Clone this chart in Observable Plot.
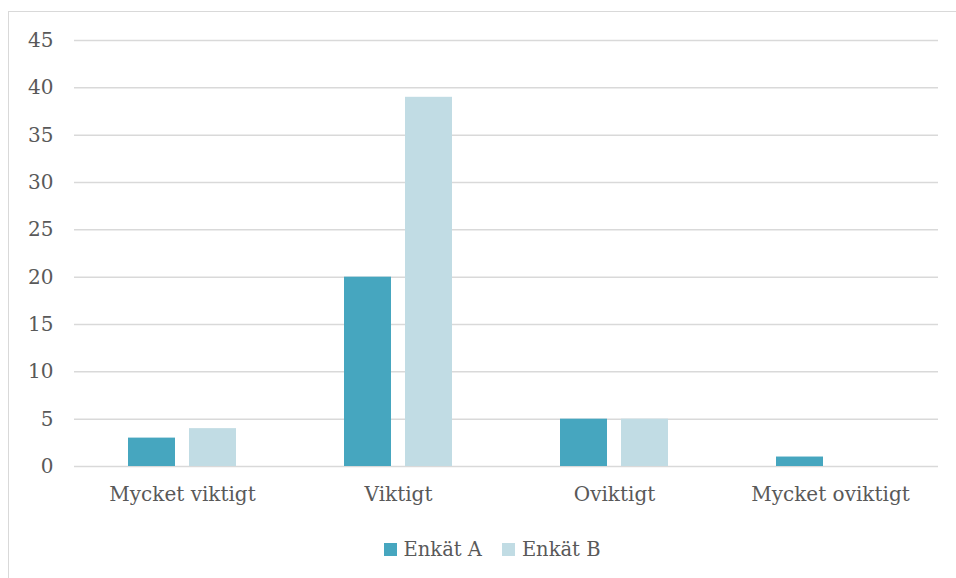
<!DOCTYPE html>
<html>
<head>
<meta charset="utf-8">
<script src="https://cdn.jsdelivr.net/npm/d3@7"></script>
<script src="https://cdn.jsdelivr.net/npm/@observablehq/plot@0.6"></script>
<style>
  html, body { margin: 0; padding: 0; background: #fff; width: 956px; height: 578px; overflow: hidden; }
  #frame { position: absolute; left: 8px; top: 11px; width: 980px; height: 600px; border: 1px solid #d9d9d9; box-sizing: border-box; }
  #chart { position: absolute; left: 0; top: 0; }
  #legend { position: absolute; left: 14px; top: 538px; width: 956px; text-align: center; }
  .lg { display: inline-flex; align-items: center; font-family: "DejaVu Serif", serif; font-size: 19.5px; color: #595959; margin: 0 10px; }
  .lg svg { margin-right: 7px; }
</style>
</head>
<body>
<div id="frame"></div>
<div id="chart"></div>
<div id="legend"></div>
<script>
const categories = ["Mycket viktigt", "Viktigt", "Oviktigt", "Mycket oviktigt"];
const seriesNames = ["Enkät A", "Enkät B"];
const enkatA = [3, 20, 5, 1];
const enkatB = [4, 39, 5, 0];
const yTicks = [0, 5, 10, 15, 20, 25, 30, 35, 40, 45];
const colors = ["#46a6bf", "#c1dce4"];

const data = [];
categories.forEach((c, i) => {
  data.push({category: c, series: seriesNames[0], value: enkatA[i]});
  data.push({category: c, series: seriesNames[1], value: enkatB[i]});
});

const font = "DejaVu Serif, serif";

const chart = Plot.plot({
  width: 956,
  height: 516,
  marginLeft: 72,
  marginRight: 17,
  marginTop: 40,
  marginBottom: 50,
  style: {fontFamily: font, fontSize: "20px", color: "#595959", background: "transparent"},
  fx: {domain: categories, padding: 0, label: null},
  x: {domain: seriesNames, paddingInner: 0.226, paddingOuter: 0.859, axis: null},
  y: {domain: [0, 45], ticks: yTicks, label: null},
  color: {domain: seriesNames, range: colors},
  marks: [
    Plot.ruleY(yTicks, {stroke: "#d9d9d9", strokeWidth: 1.5}),
    Plot.barY(data, {fx: "category", x: "series", y: "value", fill: "series"}),
    Plot.axisY({ticks: yTicks, tickSize: 0, tickPadding: 21, label: null, fontSize: 20, fill: "#595959"}),
    Plot.axisFx({tickSize: 0, tickPadding: 20, label: null, fontSize: 20, fill: "#595959", anchor: "bottom"})
  ]
});
document.getElementById("chart").appendChild(chart);

const legend = document.getElementById("legend");
const scale = chart.scale("color");
seriesNames.forEach((s) => {
  const span = document.createElement("span");
  span.className = "lg";
  span.innerHTML = `<svg width="13" height="13"><rect width="13" height="13" fill="${scale.apply(s)}"></rect></svg>${s}`;
  legend.appendChild(span);
});
</script>
</body>
</html>
